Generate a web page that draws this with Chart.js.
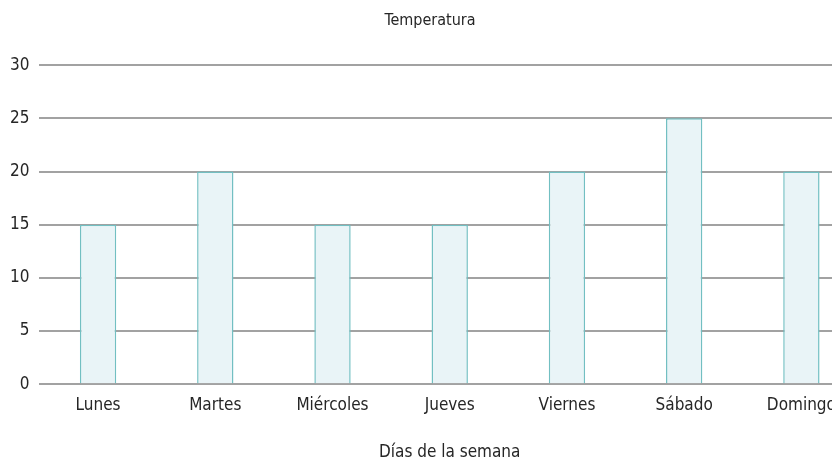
<!DOCTYPE html>
<html lang="es">
<head>
<meta charset="utf-8">
<title>Temperatura</title>
<script src="https://cdn.jsdelivr.net/npm/chart.js@4/dist/chart.umd.min.js"></script>
<style>
  html, body { margin: 0; padding: 0; background: #fff; overflow: hidden; }
  #wrap { width: 860px; height: 463px; }
</style>
</head>
<body>
<div id="wrap"><canvas id="tempChart" width="860" height="463"></canvas></div>
<script>
const dias = ['Lunes', 'Martes', 'Miércoles', 'Jueves', 'Viernes', 'Sábado', 'Domingo'];
const temperaturas = [15, 20, 15, 15, 20, 25, 20];
const yTicks = [0, 5, 10, 15, 20, 25, 30];

const FONT = "'DejaVu Sans Condensed', 'Liberation Sans Narrow', sans-serif";
const TEXT = '#262626';

new Chart(document.getElementById('tempChart').getContext('2d'), {
    type: 'bar',
    data: {
        labels: dias,
        datasets: [{
            label: 'Temperatura',
            data: temperaturas,
            backgroundColor: '#e9f4f7',
            borderColor: '#72bfc2',
            borderWidth: { top: 1.5, left: 1.5, right: 1.5, bottom: 0 },
            borderSkipped: 'bottom',
            categoryPercentage: 1,
            barPercentage: 0.31
        }]
    },
    options: {
        responsive: false,
        animation: false,
        layout: { padding: { left: 0, right: 0, top: 0, bottom: 0 } },
        plugins: {
            legend: { display: false },
            tooltip: { enabled: false },
            title: {
                display: true,
                text: 'Temperatura',
                color: TEXT,
                font: { family: FONT, size: 16, weight: 'normal' },
                padding: { top: 11, bottom: 35 }
            }
        },
        scales: {
            x: {
                grid: { display: false },
                border: { display: false },
                ticks: { color: TEXT, font: { family: FONT, size: 17 }, padding: 3, maxRotation: 0 },
                title: {
                    display: true,
                    text: 'Días de la semana',
                    color: TEXT,
                    font: { family: FONT, size: 17 },
                    padding: { top: 24, bottom: 0 }
                }
            },
            y: {
                min: 0,
                max: 30,
                afterBuildTicks: axis => { axis.ticks = yTicks.map(v => ({ value: v })); },
                grid: { color: '#a2a2a2', lineWidth: 2, drawTicks: false },
                border: { display: false },
                ticks: { color: TEXT, font: { family: FONT, size: 17 }, padding: 10 }
            }
        }
    }
});
</script>
</body>
</html>
